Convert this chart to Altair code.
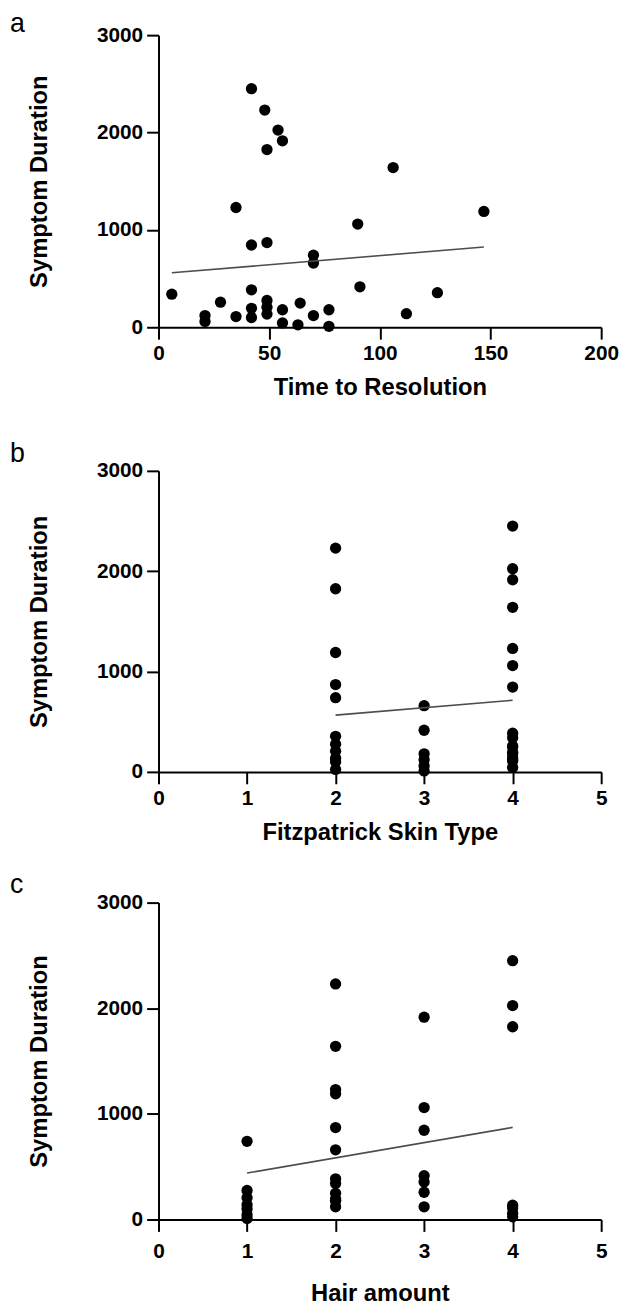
import altair as alt
import pandas as pd

# ---------------- data ----------------
# Panel a: Time to Resolution vs Symptom Duration
a_time = [42, 48, 54, 56, 49, 106, 35, 147, 90, 42, 49, 70, 70, 6, 91, 126, 42,
          28, 21, 21, 35, 42, 42, 49, 49, 49, 56, 56, 64, 63, 70, 77, 77, 112]
a_dur = [2450, 2230, 2025, 1915, 1825, 1640, 1230, 1190, 1060, 845, 870, 740, 660,
         340, 415, 355, 385, 258, 120, 60, 110, 195, 100, 275, 205, 135, 180, 45,
         248, 25, 120, 180, 10, 140]
a_fit_x = [6, 147]
a_fit_y = [559, 824]

# Panel b: Fitzpatrick Skin Type vs Symptom Duration
b_type = [2, 2, 2, 2, 2, 2, 2, 2, 2, 2, 2,
          3, 3, 3, 3, 3, 3,
          4, 4, 4, 4, 4, 4, 4, 4, 4, 4, 4, 4, 4, 4, 4, 4, 4]
b_dur = [2230, 1825, 1190, 870, 740, 355, 275, 205, 135, 100, 25,
         660, 415, 180, 120, 60, 10,
         2450, 2025, 1915, 1640, 1230, 1060, 845, 385, 340, 258, 248, 195, 180,
         140, 120, 110, 45]
b_fit_x = [2, 4]
b_fit_y = [566, 714]

# Panel c: Hair amount vs Symptom Duration
c_hair = [1, 1, 1, 1, 1, 1, 1,
          2, 2, 2, 2, 2, 2, 2, 2, 2, 2, 2, 2, 2,
          3, 3, 3, 3, 3, 3, 3,
          4, 4, 4, 4, 4, 4, 4]
c_dur = [740, 275, 205, 140, 100, 45, 10,
         2230, 1640, 1230, 1190, 870, 660, 385, 340, 248, 195, 180, 180, 120,
         1915, 1060, 845, 415, 355, 258, 120,
         2450, 2025, 1825, 135, 110, 60, 25]
c_fit_x = [1, 4]
c_fit_y = [440, 872]

y_ticks = [0, 1000, 2000, 3000]
a_ticks = [0, 50, 100, 150, 200]
bc_ticks = [0, 1, 2, 3, 4, 5]

FONT = "Liberation Sans"


def panel(xs, ys, fx, fy, xtitle, xmax, xticks, height, letter, letter_y,
          xlabel_pad=4, xtitle_pad=12):
    df = pd.DataFrame({"x": xs, "y": ys})
    fit = pd.DataFrame({"x": fx, "y": fy})
    xscale = alt.Scale(domain=[0, xmax], nice=False, zero=True)
    yscale = alt.Scale(domain=[0, 3000], nice=False)
    xaxis = alt.Axis(values=xticks, title=xtitle, format="d",
                     labelPadding=xlabel_pad, titlePadding=xtitle_pad)
    yaxis = alt.Axis(values=y_ticks, title="Symptom Duration", format="d")
    pts = alt.Chart(df).mark_circle(size=130, color="black", opacity=1).encode(
        x=alt.X("x:Q", scale=xscale, axis=xaxis),
        y=alt.Y("y:Q", scale=yscale, axis=yaxis),
    )
    line = alt.Chart(fit).mark_line(color="#4d4d4d", strokeWidth=1.6).encode(
        x=alt.X("x:Q", scale=xscale),
        y=alt.Y("y:Q", scale=yscale),
    )
    lab = alt.Chart(pd.DataFrame({"t": [letter]})).mark_text(
        align="left", baseline="alphabetic", fontSize=27, font=FONT,
        color="black"
    ).encode(text="t:N", x=alt.value(-150), y=alt.value(letter_y))
    return alt.layer(pts, line, lab).properties(width=447, height=height)


pa = panel(a_time, a_dur, a_fit_x, a_fit_y, "Time to Resolution", 200, a_ticks, 295, "a", -3)
pb = panel(b_type, b_dur, b_fit_x, b_fit_y, "Fitzpatrick Skin Type", 5, bc_ticks, 304, "b", -9)
pc = panel(c_hair, c_dur, c_fit_x, c_fit_y, "Hair amount", 5, bc_ticks, 320, "c", -10,
           xlabel_pad=9, xtitle_pad=21)

chart = alt.vconcat(pa, alt.vconcat(pb, pc, spacing=27), spacing=41).properties(
    padding={"left": 2, "top": -4, "right": 0, "bottom": 0}
).configure_view(stroke=None).configure_axis(
    domainColor="black", domainWidth=2, tickColor="black", tickWidth=2,
    tickSize=12, labelPadding=4, labelFont=FONT, labelFontWeight="bold",
    labelFontSize=21, labelColor="black", labelFlush=False, labelOverlap=False,
    titleFont=FONT, titleFontWeight="bold", titleFontSize=24, titleColor="black",
    grid=False,
).configure_axisY(titlePadding=45)

chart.save("out.html", embed_options={"renderer": "svg", "actions": False})
